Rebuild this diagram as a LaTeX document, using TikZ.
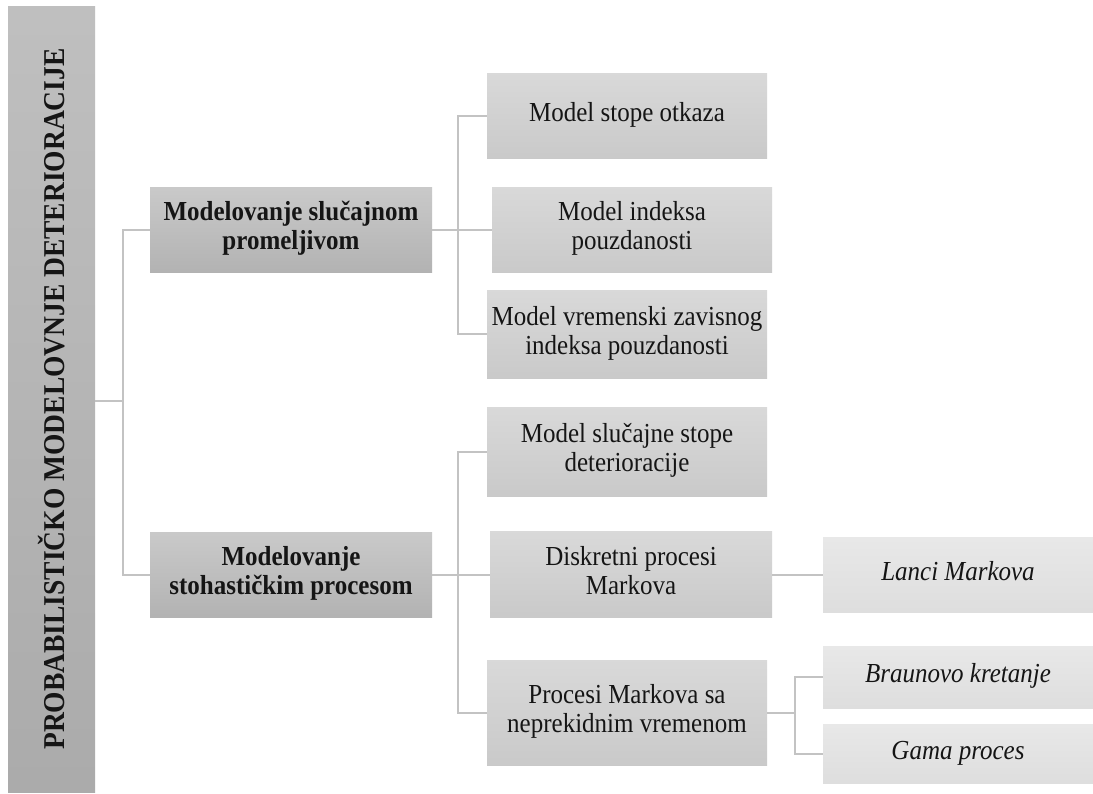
\documentclass[tikz,border=0pt]{standalone}
\usepackage{fontspec}
\usepackage{graphicx}
\setmainfont{Liberation Serif}
\definecolor{lineclr}{HTML}{C3C3C3}
\definecolor{txt}{HTML}{151515}
\newcommand\vtext[1]{\scalebox{1}[1.1]{\begin{tabular}{@{}c@{}}#1\end{tabular}}}
\tikzset{
  base/.style={rectangle, inner sep=0pt, text=txt, align=center,
    font=\fontsize{25}{26}\selectfont},
  rootbox/.style={base, top color=black!25, bottom color=black!33,
    minimum width=87pt, minimum height=786pt,
    font=\fontsize{27.5}{32}\selectfont\bfseries},
  lvtwo/.style={base, top color=black!21, bottom color=black!30,
    minimum width=282pt, minimum height=85pt, font=\fontsize{25}{26}\selectfont\bfseries},
  lvthree/.style={base, top color=black!15, bottom color=black!21,
    minimum width=280pt, minimum height=85pt},
  lvfour/.style={base, top color=black!9, bottom color=black!13,
    minimum width=270pt, minimum height=62pt, font=\fontsize{25}{26}\selectfont\itshape},
  conn/.style={draw=lineclr, line width=2pt}
}
\begin{document}
\begin{tikzpicture}[x=1pt,y=1pt]
\useasboundingbox[fill=white] (0,0) rectangle (1093,-793);
% root
\node[rootbox] (root) at (51.5,-399) {\rotatebox{90}{\scalebox{1}[1.1]{PROBABILISTIČKO MODELOVNJE DETERIORACIJE}}};
% level 2
\node[lvtwo] (L2a) at (291,-229.5) {\vtext{Modelovanje slučajnom\\promeljivom}};
\node[lvtwo] (L2b) at (291,-574.5) {\vtext{Modelovanje\\stohastičkim procesom}};
% level 3
\node[lvthree] (A1) at (627,-115.5) {\vtext{Model stope otkaza}};
\node[lvthree] (A2) at (632,-229.5) {\vtext{Model indeksa\\pouzdanosti}};
\node[lvthree, minimum height=88pt] (A3) at (627,-334) {\vtext{Model vremenski zavisnog\\indeksa pouzdanosti}};
\node[lvthree, minimum height=89pt] (B1) at (627,-451.5) {\vtext{Model slučajne stope\\deterioracije}};
\node[lvthree, minimum width=282pt, minimum height=86pt] (B2) at (631,-574.5) {\vtext{Diskretni procesi\\Markova}};
\node[lvthree, minimum height=105pt] (B3) at (627,-712.5) {\vtext{Procesi Markova sa\\neprekidnim vremenom}};
% level 4
\node[lvfour, minimum height=75pt] (C1) at (958,-574.5) {\vtext{Lanci Markova}};
\node[lvfour] (C2) at (958,-677) {\vtext{Braunovo kretanje}};
\node[lvfour, minimum height=59pt] (C3) at (958,-753.5) {\vtext{Gama proces}};
% junctions
\coordinate (j0) at (123,-401);
\coordinate (j1) at (458,-229.5);
\coordinate (j2) at (458,-574.5);
\coordinate (j3) at (795,-712.5);
% connectors
\draw[conn] (root.east |- j0) -- (j0);
\draw[conn] (L2a.west) -| (j0);
\draw[conn] (L2b.west) -| (j0);
\draw[conn] (L2a.east) -- (A2.west);
\draw[conn] (A1.west) -| (j1);
\draw[conn] (A3.west) -| (j1);
\draw[conn] (L2b.east) -- (B2.west);
\draw[conn] (B1.west) -| (j2);
\draw[conn] (B3.west) -| (j2);
\draw[conn] (B2.east) -- (C1.west);
\draw[conn] (B3.east) -- (j3);
\draw[conn] (C2.west) -| (j3);
\draw[conn] (C3.west) -| (j3);
\end{tikzpicture}
\end{document}
